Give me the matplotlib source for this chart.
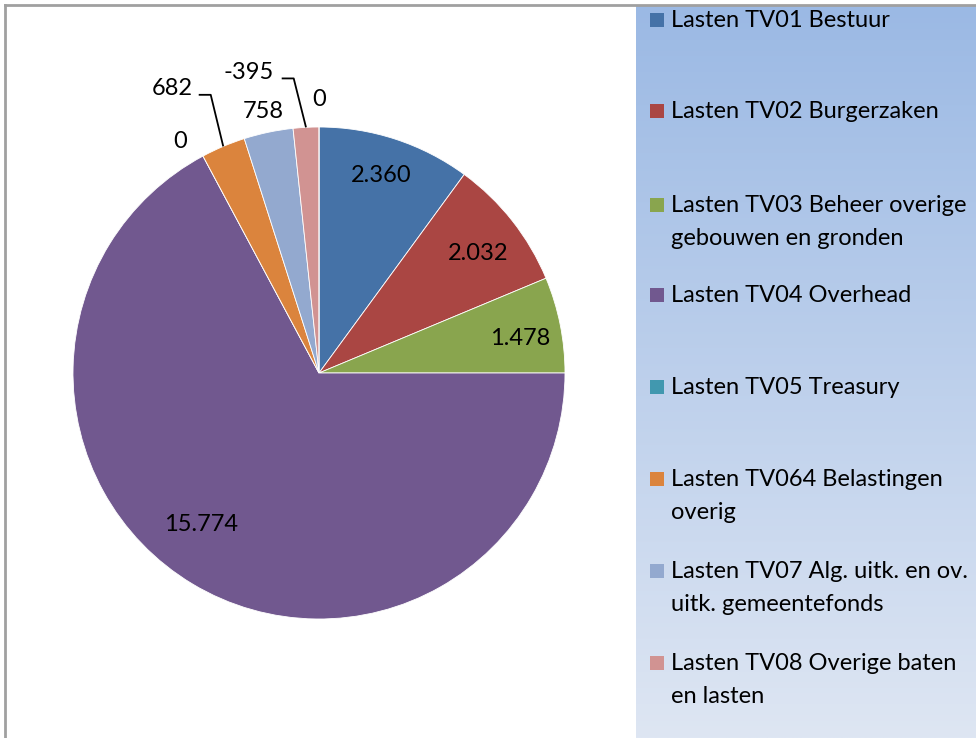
import numpy as np
import matplotlib
matplotlib.use('Agg')
import matplotlib.pyplot as plt
from matplotlib.patches import Rectangle

plt.rcParams['font.family'] = ['Lato', 'DejaVu Sans']

# data
categories = [
    'Lasten TV01 Bestuur',
    'Lasten TV02 Burgerzaken',
    'Lasten TV03 Beheer overige\ngebouwen en gronden',
    'Lasten TV04 Overhead',
    'Lasten TV05 Treasury',
    'Lasten TV064 Belastingen\noverig',
    'Lasten TV07 Alg. uitk. en ov.\nuitk. gemeentefonds',
    'Lasten TV08 Overige baten\nen lasten',
    '',
]
values = [2360, 2032, 1478, 15774, 0, 682, 758, -395, 0]
colors = ['#4572A7', '#AA4643', '#89A54E', '#71588F', '#4198AF',
          '#DB843D', '#93A9CF', '#D19392', '#B9CD96']

# label layout: (radius factor, angle in degrees, leader line)
label_layout = [
    (0.84, 72.6, False),
    (0.81, 37, False),
    (0.83, 9.6, False),
    (0.78, 232, False),
    (1.10, 121, False),
    (1.30, 117.3, True),
    (1.085, 102, False),
    (1.255, 103.2, True),
    (1.11, 90, False),
]

W, H = 976, 738
cx, cy, R = 319, H - 373, 246
FS = 17


def fmt(v):
    return f'{v:,}'.replace(',', '.')


fig = plt.figure(figsize=(W / 100, H / 100), dpi=100)
ax = fig.add_axes([0, 0, 1, 1])

sizes = [abs(v) for v in values]
wedges, _ = ax.pie(sizes, colors=colors, startangle=90, counterclock=False,
                   center=(cx, cy), radius=R, normalize=True,
                   wedgeprops=dict(edgecolor='white', linewidth=0.6))
ax.set_xlim(0, W)
ax.set_ylim(0, H)
ax.set_aspect('equal')
ax.axis('off')

for w, v, (rf, ang, leader) in zip(wedges, values, label_layout):
    a = np.radians(ang)
    tx, ty = cx + rf * R * np.cos(a), cy + rf * R * np.sin(a)
    ax.text(tx, ty, fmt(v), ha='center', va='center', fontsize=FS,
            color='black')
    if leader:
        mid = np.radians((w.theta1 + w.theta2) / 2)
        ex, ey = cx + R * np.cos(mid), cy + R * np.sin(mid)
        half = len(fmt(v)) * 6.8
        x0 = tx + half + 6
        ax.plot([x0, x0 + 12, ex], [ty - 6, ty - 6, ey], color='black',
                lw=1.3, solid_capstyle='butt')

# legend panel with gradient
lx0, ltop = 636, H - 6
grad = np.linspace(0, 1, 256)[:, None]
top = np.array([155, 185, 228]) / 255
bot = np.array([222, 230, 243]) / 255
img = top[None, None, :] * (1 - grad[..., None]) + bot[None, None, :] * grad[..., None]
ax.imshow(img, extent=(lx0, W, 0, ltop), aspect='auto', zorder=0,
          origin='upper')

entry_y = [20, 111, 205, 295, 387, 479, 571, 663]
for cat, col, y in zip(categories[:8], colors[:8], entry_y):
    yy = H - y
    ax.add_patch(Rectangle((650, yy - 7), 14, 14, facecolor=col,
                           edgecolor='none', zorder=3))
    ax.text(671, yy + 10, cat, ha='left', va='top', fontsize=FS,
            linespacing=1.7, zorder=3)

# chart border
ax.plot([4.5, 4.5], [0, H - 5], color='#A0A0A0', lw=2)
ax.plot([4.5, W], [H - 5, H - 5], color='#A0A0A0', lw=2)

fig.savefig('out.png', dpi=100)
